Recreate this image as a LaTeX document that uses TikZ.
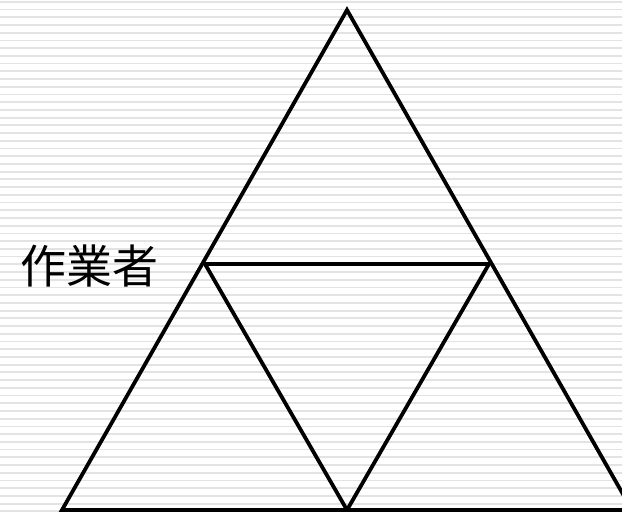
\documentclass[tikz,border=0pt]{standalone}
\usepackage{fontspec}
\newfontfamily\cjk{Noto Sans CJK JP}
\usetikzlibrary{positioning}

\begin{document}
\begin{tikzpicture}[x=1pt,y=-1pt]
    \useasboundingbox (0,0) rectangle (622,512);
    \clip (0,0) rectangle (622,512);
    % striped background
    \fill[white] (0,0) rectangle (622,512);
    \foreach \i in {0,...,66} {
        \draw[black!11, line width=1.8pt] (0,1.8+7.72*\i) -- (622,1.8+7.72*\i);
    }
    % corners of the triangles
    \coordinate (top) at (347,10);
    \coordinate (bl) at (62,510);
    \coordinate (br) at (632,510);
    \coordinate (ml) at (205,264);
    \coordinate (mr) at (489,264);
    \coordinate (bm) at (347,510);
    \draw[line width=3.8pt] (top) -- (bl) -- (br) -- cycle;
    \draw[line width=3.8pt] (ml) -- (mr) -- (bm) -- cycle;
    \node[font=\cjk\fontsize{46}{46}\selectfont, anchor=east] (worker) at (162,266) {作業者};
\end{tikzpicture}
\end{document}
